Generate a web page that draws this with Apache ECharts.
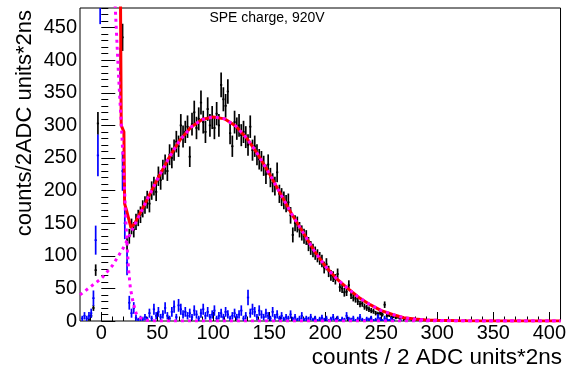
<!DOCTYPE html>
<html><head><meta charset="utf-8">
<script src="https://cdn.jsdelivr.net/npm/echarts@6/dist/echarts.min.js"></script>
<style>html,body{margin:0;padding:0;background:#fff}#c{width:569px;height:371px}</style>
</head><body><div id="c"></div>
<script>
// Histogram binning: bins of width 2 starting at -20 (centres -19, -17, ...)
const binStart = -20;
const binWidth = 2;

// Black histogram (counts per bin)
const blackCounts = [
  0,0,0,0,2,8,20,78,303,1200,
  2500,4000,5000,4800,3600,2200,1300,800,600,435,
  195,118,130,145,140,152,158,163,172,178,
  186,180,200,207,198,222,216,232,240,230,
  255,250,262,275,268,300,283,290,298,252,
  302,320,296,310,335,305,290,325,300,312,
  296,318,300,362,340,330,352,288,268,305,
  295,300,285,290,282,270,298,262,268,255,
  248,245,238,225,240,220,212,207,228,195,
  190,185,180,182,162,132,150,148,140,135,
  130,128,118,112,108,104,100,96,92,82,
  87,76,70,68,64,72,52,50,44,45,
  55,40,36,34,30,26,27,22,20,18,
  16,15,12,11,12,10,25,8,9,6,
  7,5,6,4,5,3,4,3,2,3,
  2,2,1,2,1,1,1,0,1,1,
  0,1,0,0,1,0,0,0,1,0,
  0,0,1,0,0,0,0,0,0,0
];

// Blue histogram (scaled x4)
const blueCounts = [
  0,4,8,4,8,12,35,124,254,500,
  1500,2500,3000,2800,2200,1500,1000,700,380,230,
  150,89,28,12,20,5,2,4,3,6,
  3,12,4,18,8,14,6,10,20,8,
  4,14,22,6,24,18,10,14,8,12,
  6,16,10,4,12,18,8,14,6,10,
  16,4,8,12,6,14,10,4,8,12,
  6,10,16,4,8,36,12,18,14,6,
  16,10,6,12,8,4,14,6,10,4,
  8,3,6,4,10,3,6,2,4,8,
  2,4,3,6,2,4,1,3,5,2,
  4,1,3,6,2,4,1,3,2,8,
  3,2,4,1,3,6,2,1,3,2,
  4,1,2,6,3,1,4,2,1,3,
  1,0,0,1,0,0,0,0,0,0
];

// Fit curves (x, y)
const redFit = [
  [16.7,700],[17.2,480],[17.8,300],[20.2,290],[20.8,180],[22.5,170],[26.5,143],
  [30,150],[40,183],[50,217],[60,249],[70,277],[80,297],[90,309],[100,313],
  [110,310],[120,299],[130,280],[140,255],[150,226],[160,195],[170,164],[180,136],
  [190,108],[200,84],[210,65],[220,50],[230,36],[240,25],[250,16],[260,10],
  [270,5],[280,3],[290,1.5],[300,1],[320,0.3],[350,0],[410,0]
];
const speComponent = [
  [-19,40],[-10,52],[0,65],[10,85],[20,113],[30,148],[40,183],[50,217],[60,249],
  [70,277],[80,297],[90,309],[100,313],[110,310],[120,299],[130,280],[140,255],
  [150,226],[160,195],[170,164],[180,136],[190,108],[200,84],[210,65],[220,50],
  [230,36],[240,25],[250,16],[260,10],[270,5],[280,3],[290,1.5],[300,1],
  [320,0.3],[350,0],[410,0]
];
const pedComponent = [
  [10.5,560],[12.5,480],[15.4,377],[18.4,285],[20.5,215],[21.5,170],[22.9,120],
  [24.3,80],[26,50],[28.5,28],[31,12],[34.7,5],[40,1],[50,0],[410,0]
];

const xTickLabels = [0,50,100,150,200,250,300,350,400];
const yTickLabels = [0,50,100,150,200,250,300,350,400,450];
const titleText = 'SPE charge, 920V';
const xTitle = 'counts / 2 ADC units*2ns';
const yTitle = 'counts/2ADC units*2ns';

const xMin = -19, xMax = 410, yMin = 0, yMax = 480;
const FONT = 'Liberation Sans';

function minorTicks(lo, hi, step, majorStep) {
  const out = [];
  for (let v = Math.ceil(lo / step) * step; v <= hi; v += step) {
    if (v % majorStep !== 0) out.push(v);
  }
  return out;
}
const xMinor = minorTicks(xMin, xMax, 10, 50);
const yMinor = minorTicks(yMin, yMax, 10, 50);

function histData(counts, errScale) {
  const d = [];
  counts.forEach((c, i) => {
    if (c > 0) d.push([binStart + binWidth * (i + 0.5), c, errScale * Math.sqrt(c)]);
  });
  return d;
}

function errRender(color) {
  return function (params, api) {
    const x = api.value(0), v = api.value(1), e = api.value(2);
    const a = api.coord([x - binWidth / 2, v]);
    const b = api.coord([x + binWidth / 2, v]);
    const t = api.coord([x, v + e]);
    const bt = api.coord([x, v - e]);
    return {
      type: 'group',
      children: [
        { type: 'line', shape: { x1: a[0], y1: a[1], x2: b[0], y2: b[1] }, style: { stroke: color, lineWidth: 1.7 } },
        { type: 'line', shape: { x1: t[0], y1: t[1], x2: bt[0], y2: bt[1] }, style: { stroke: color, lineWidth: 1.7 } }
      ]
    };
  };
}

const chart = echarts.init(document.getElementById('c'), null, { renderer: 'canvas' });
chart.setOption({
  animation: false,
  backgroundColor: '#fff',
  grid: { left: 80, right: 6, top: 8, bottom: 50, show: true, borderColor: '#000', borderWidth: 1, backgroundColor: 'transparent' },
  xAxis: [
    { type: 'value', min: xMin, max: xMax, position: 'bottom',
      axisLine: { show: false }, splitLine: { show: false },
      axisTick: { inside: true, length: 9, customValues: xTickLabels, lineStyle: { color: '#000', width: 1 } },
      axisLabel: { customValues: xTickLabels, fontSize: 20, fontFamily: FONT, color: '#000', margin: 2 } },
    { type: 'value', min: xMin, max: xMax, position: 'bottom', offset: 0,
      axisLine: { show: false }, splitLine: { show: false }, axisLabel: { show: false },
      axisTick: { inside: true, length: 4.5, customValues: xMinor, lineStyle: { color: '#000', width: 1 } } }
  ],
  yAxis: [
    { type: 'value', min: yMin, max: yMax, position: 'left',
      axisLine: { show: false }, splitLine: { show: false },
      axisTick: { inside: true, length: 14, customValues: yTickLabels, lineStyle: { color: '#000', width: 1 } },
      axisLabel: { customValues: yTickLabels, fontSize: 20, fontFamily: FONT, color: '#000', margin: 3 } },
    { type: 'value', min: yMin, max: yMax, position: 'left', offset: 0,
      axisLine: { show: false }, splitLine: { show: false }, axisLabel: { show: false },
      axisTick: { inside: true, length: 7, customValues: yMinor, lineStyle: { color: '#000', width: 1 } } }
  ],
  series: [
    { type: 'custom', name: 'data', xAxisIndex: 0, yAxisIndex: 0, clip: true,
      renderItem: errRender('#000000'), encode: { x: 0, y: 1 }, data: histData(blackCounts, 1), z: 2 },
    { type: 'custom', name: 'blue', xAxisIndex: 0, yAxisIndex: 0, clip: true,
      renderItem: errRender('#0000ff'), encode: { x: 0, y: 1 }, data: histData(blueCounts, 2), z: 3 },
    { type: 'line', name: 'fit', xAxisIndex: 0, yAxisIndex: 0, data: redFit, showSymbol: false, clip: true,
      lineStyle: { color: '#ff0000', width: 3 }, z: 4 },
    { type: 'line', name: 'spe', xAxisIndex: 0, yAxisIndex: 0, data: speComponent, showSymbol: false, clip: true,
      lineStyle: { color: '#ff00ff', width: 3, type: [3, 4] }, z: 5 },
    { type: 'line', name: 'ped', xAxisIndex: 0, yAxisIndex: 0, data: pedComponent, showSymbol: false, clip: true,
      lineStyle: { color: '#ff00ff', width: 3, type: [3, 4] }, z: 5 }
  ],
  graphic: [
    { type: 'text', x: 267, y: 18, z: 10,
      style: { text: titleText, fontSize: 14, fontFamily: FONT, fill: '#000', align: 'center', verticalAlign: 'middle' } },
    { type: 'text', x: 562, y: 358, z: 10,
      style: { text: xTitle, fontSize: 22.5, fontFamily: FONT, fill: '#000', align: 'right', verticalAlign: 'middle' } },
    { type: 'text', x: 25, y: 10, rotation: Math.PI / 2, z: 10,
      style: { text: yTitle, fontSize: 22, fontFamily: FONT, fill: '#000', align: 'right', verticalAlign: 'middle' } }
  ]
});
</script>
</body></html>
